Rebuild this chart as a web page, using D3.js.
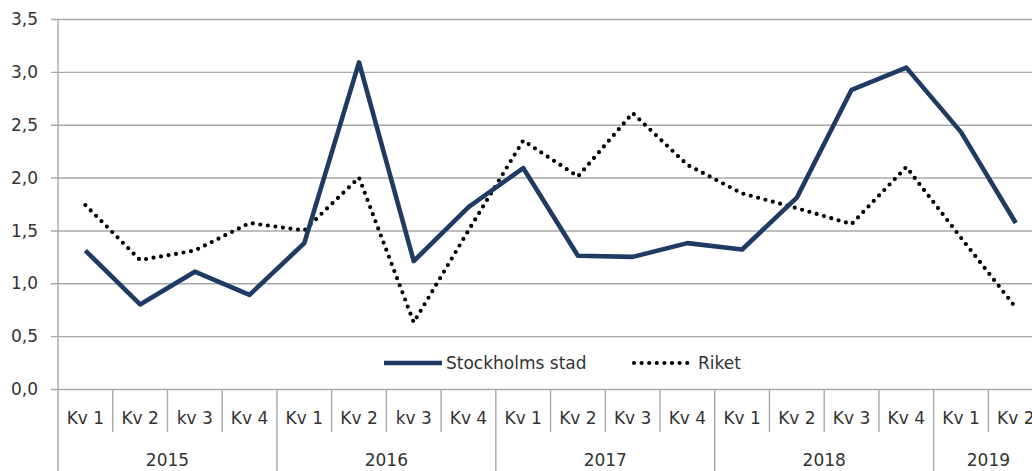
<!DOCTYPE html>
<html lang="sv">
<head>
    <meta charset="UTF-8">
    <title>Stockholms stad och Riket</title>
    <script src="https://d3js.org/d3.v7.min.js"></script>
    <style>
        body { margin: 0; background: white; }
        svg { display: block; overflow: hidden; }
        text { font-family: "DejaVu Sans", Verdana, sans-serif; fill: #333333; }
        .grids .domain { stroke: none; }
        .grids line { stroke: #a8a8a8; stroke-width: 1.4; }
    </style>
</head>
<body>
    <svg id="svg1" width="1032" height="471"></svg>

    <script>
        // data ------------------------------------------------------------
        const years = ["2015", "2016", "2017", "2018", "2019"];
        const quarters = [
            "Kv 1", "Kv 2", "kv 3", "Kv 4",
            "Kv 1", "Kv 2", "kv 3", "Kv 4",
            "Kv 1", "Kv 2", "Kv 3", "Kv 4",
            "Kv 1", "Kv 2", "Kv 3", "Kv 4",
            "Kv 1", "Kv 2"
        ];
        const quarterYear = [
            "2015", "2015", "2015", "2015",
            "2016", "2016", "2016", "2016",
            "2017", "2017", "2017", "2017",
            "2018", "2018", "2018", "2018",
            "2019", "2019"
        ];
        const stockholm = [1.31, 0.80, 1.11, 0.89, 1.38, 3.09, 1.21, 1.72, 2.09, 1.26, 1.25, 1.38,
                           1.32, 1.81, 2.83, 3.04, 2.43, 1.57];
        const riket = [1.74, 1.22, 1.31, 1.57, 1.50, 2.00, 0.63, 1.50, 2.35, 2.01, 2.61, 2.12,
                       1.85, 1.71, 1.56, 2.10, 1.43, 0.77];
        const yTicks = [0, 0.5, 1, 1.5, 2, 2.5, 3, 3.5];

        // svg configuration ------------------------------------------------
        const svg1 = d3.select("svg#svg1");
        const margin = {left: 58, top: 19};
        const bandWidth = 54.73;
        const plotHeight = 370;
        const keys = quarters.map((q, i) => i);

        const xScale = d3.scaleBand().domain(keys)
            .range([margin.left, margin.left + bandWidth * keys.length]);
        const yScale = d3.scaleLinear().domain([0, 3.5])
            .range([margin.top + plotHeight, margin.top]);
        const fmt = d => d3.format(".1f")(d).replace(".", ",");
        const y0 = yScale(0);

        // gridlines + y labels ---------------------------------------------
        svg1.append("g")
            .attr("class", "y grids")
            .attr("transform", `translate(${margin.left - 7},0)`)
            .call(d3.axisLeft(yScale).tickValues(yTicks).tickSize(-1100).tickFormat(""));

        svg1.append("g").selectAll("text")
            .data(yTicks)
            .join("text")
            .attr("x", 38)
            .attr("y", d => yScale(d))
            .attr("dy", "0.36em")
            .attr("text-anchor", "end")
            .style("font-size", "17px")
            .text(fmt);

        // left axis line
        svg1.append("line")
            .attr("x1", margin.left).attr("x2", margin.left)
            .attr("y1", margin.top).attr("y2", 471)
            .attr("stroke", "#a8a8a8").attr("stroke-width", 1.4);

        // category dividers and labels --------------------------------------
        const dividers = keys.slice(1).concat([keys.length]);
        svg1.append("g").selectAll("line")
            .data(dividers)
            .join("line")
            .attr("x1", i => margin.left + bandWidth * i)
            .attr("x2", i => margin.left + bandWidth * i)
            .attr("y1", y0)
            .attr("y2", i => (i % 4 === 0 || i === keys.length) ? 471 : y0 + 43)
            .attr("stroke", "#a8a8a8").attr("stroke-width", 1.4);

        svg1.append("g").selectAll("text")
            .data(keys)
            .join("text")
            .attr("x", i => xScale(i) + xScale.bandwidth() / 2)
            .attr("y", y0 + 29)
            .attr("dy", "0.36em")
            .attr("text-anchor", "middle")
            .style("font-size", "17px")
            .text(i => quarters[i]);

        svg1.append("g").selectAll("text")
            .data(years)
            .join("text")
            .attr("x", yr => {
                const idx = keys.filter(i => quarterYear[i] === yr);
                return (xScale(idx[0]) + xScale(idx[idx.length - 1]) + xScale.bandwidth()) / 2;
            })
            .attr("y", y0 + 71)
            .attr("dy", "0.36em")
            .attr("text-anchor", "middle")
            .style("font-size", "17px")
            .text(yr => yr);

        // lines -------------------------------------------------------------
        const lineGen = d3.line()
            .x((d, i) => xScale(i) + xScale.bandwidth() / 2)
            .y(d => yScale(d));

        svg1.append("path")
            .attr("d", lineGen(riket))
            .attr("fill", "none")
            .attr("stroke", "#000")
            .attr("stroke-width", 4.2)
            .attr("stroke-linecap", "round")
            .attr("stroke-dasharray", "0 7.6");

        svg1.append("path")
            .attr("d", lineGen(stockholm))
            .attr("fill", "none")
            .attr("stroke", "#1f3b63")
            .attr("stroke-width", 4.6)
            .attr("stroke-linejoin", "round");

        // legend ------------------------------------------------------------
        const legend = svg1.append("g").attr("transform", "translate(0,363)");
        legend.append("line")
            .attr("x1", 384).attr("x2", 442).attr("y1", 0).attr("y2", 0)
            .attr("stroke", "#1f3b63").attr("stroke-width", 4.6);
        legend.append("text")
            .attr("x", 446).attr("dy", "0.36em")
            .style("font-size", "17px")
            .text("Stockholms stad");
        legend.append("line")
            .attr("x1", 634).attr("x2", 694).attr("y1", 0).attr("y2", 0)
            .attr("stroke", "#000").attr("stroke-width", 4.2)
            .attr("stroke-linecap", "round")
            .attr("stroke-dasharray", "0 7.6");
        legend.append("text")
            .attr("x", 698).attr("dy", "0.36em")
            .style("font-size", "17px")
            .text("Riket");
    </script>
</body>
</html>
